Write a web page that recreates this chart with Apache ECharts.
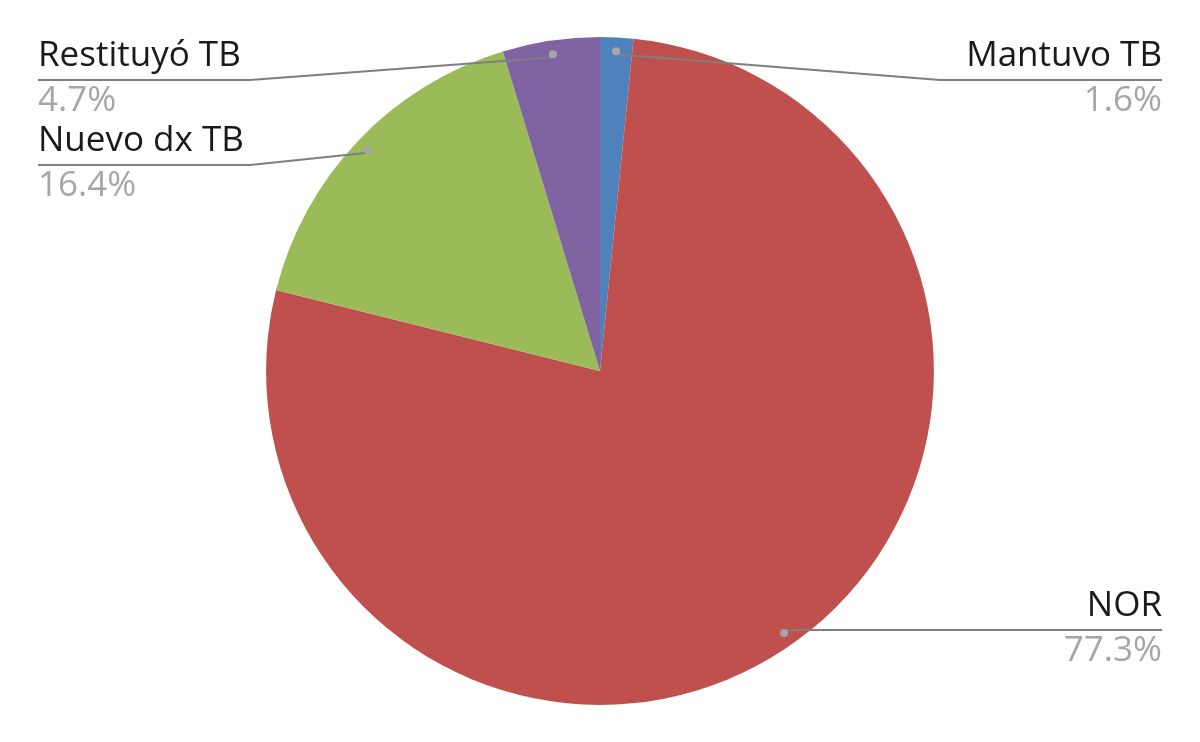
<!DOCTYPE html>
<html>
<head>
<meta charset="utf-8">
<script src="https://cdn.jsdelivr.net/npm/echarts@6/dist/echarts.min.js"></script>
<style>html,body{margin:0;padding:0;background:#fff}#c{width:1200px;height:742px}</style>
</head>
<body>
<div id="c"></div>
<script>
const categories = ['Mantuvo TB', 'NOR', 'Nuevo dx TB', 'Restituyó TB'];
const values = [1.6, 77.3, 16.4, 4.7];
const colors = ['#4f81bd', '#c0504d', '#9bbb59', '#8064a2'];

// label placement (layout only): line y, bend x, end x, side
const labelPlace = [
  {y: 80, bend: 940, end: 1162, side: 'right'},
  {y: 630, bend: 800, end: 1162, side: 'right'},
  {y: 165, bend: 250, end: 38, side: 'left'},
  {y: 80, bend: 250, end: 38, side: 'left'}
];

const chart = echarts.init(document.getElementById('c'));
const FONT = '"Open Sans", Lato, sans-serif';
const H1 = 47, H2 = 43;

const base = {
  type: 'pie',
  center: ['50%', '50%'],
  startAngle: 90,
  clockwise: true,
  avoidLabelOverlap: false,
  silent: true,
  emphasis: {disabled: true}
};

chart.setOption({
  animation: false,
  series: [
    Object.assign({}, base, {
      z: 1,
      radius: '90%',
      data: categories.map((n, i) => ({name: n, value: values[i], itemStyle: {color: colors[i]}})),
      label: {show: false},
      labelLine: {show: false}
    }),
    Object.assign({}, base, {
      z: 3,
      radius: '90%',
      data: categories.map((n, i) => ({name: n, value: values[i]})),
      itemStyle: {color: 'rgba(0,0,0,0)'},
      label: {
        show: true,
        position: 'outside',
        formatter: p => '{n|' + p.name + '}\n{p|' + p.value.toFixed(1) + '%}',
        rich: {
          n: {fontFamily: FONT, fontSize: 35, color: '#1a1a1a', lineHeight: H1},
          p: {fontFamily: FONT, fontSize: 35, color: '#a6a6a6', lineHeight: H2}
        }
      },
      labelLine: {show: true, showAbove: true, lineStyle: {color: '#7f7f7f', width: 2}},
      labelLayout: function (params) {
        const pl = labelPlace[params.dataIndex];
        const cx = chart.getWidth() / 2, cy = chart.getHeight() / 2;
        const p0 = params.labelLinePoints[0];
        const sx = cx + (p0[0] - cx) * 0.95;
        const sy = cy + (p0[1] - cy) * 0.95;
        return {
          x: pl.end,
          y: pl.y - H1,
          align: pl.side === 'right' ? 'right' : 'left',
          verticalAlign: 'top',
          labelLinePoints: [[sx, sy], [pl.bend, pl.y], [pl.end, pl.y]]
        };
      }
    }),
    Object.assign({}, base, {
      z: 4,
      radius: ['81%', '90%'],
      data: categories.map((n, i) => ({name: n, value: values[i]})),
      itemStyle: {color: 'rgba(0,0,0,0)'},
      label: {
        show: true,
        position: 'inside',
        formatter: '{d|}',
        rich: {d: {width: 8, height: 8, backgroundColor: '#a6a6a6', borderRadius: 4}}
      },
      labelLine: {show: false}
    })
  ]
});
</script>
</body>
</html>
